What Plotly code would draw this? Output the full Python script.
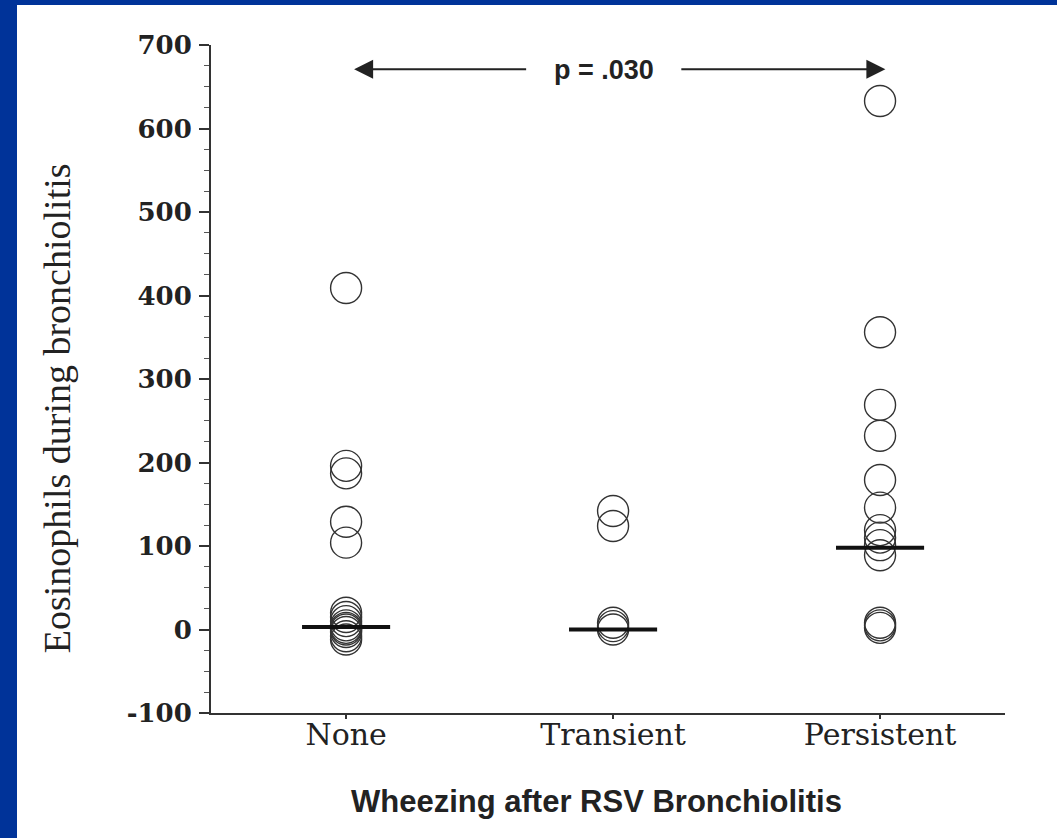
import plotly.graph_objects as go

# ---------------- data ----------------
categories = ["None", "Transient", "Persistent"]
none_vals = [409, 196, 187, 129, 104, 20, 15, 10, 5, 2, 0, -3, -8, -12]
transient_vals = [142, 124, 8, 4, 0]
persistent_vals = [633, 356, 269, 232, 179, 146, 119, 110, 101, 89, 8, 5, 2]
medians = [3, 0, 98]
y_ticks = [-100, 0, 100, 200, 300, 400, 500, 600, 700]
y_tick_labels = ["-100", "0", "100", "200", "300", "400", "500", "600", "700"]
p_text = "p = .030"
x_title = "Wheezing after RSV Bronchiolitis"
y_title = "Eosinophils during bronchiolitis"

# ---------------- layout geometry ----------------
W, H = 1057, 838
ML, MR, MT, MB = 211, 52, 45, 125
PW, PH = W - ML - MR, H - MT - MB
BLUE = "#003399"
INK = "#222222"

fig = go.Figure()

groups = [none_vals, transient_vals, persistent_vals]
for i, vals in enumerate(groups):
    fig.add_trace(go.Scatter(
        x=[i] * len(vals), y=vals, mode="markers",
        marker=dict(symbol="circle-open", size=31, color="#333333",
                    line=dict(width=1.4, color="#333333")),
        showlegend=False, hoverinfo="y"))

half = 0.165
for i, m in enumerate(medians):
    fig.add_trace(go.Scatter(
        x=[i - half, i + half], y=[m, m], mode="lines",
        line=dict(color="#111111", width=4), showlegend=False, hoverinfo="skip"))

def px_x(p):
    return (p - ML) / PW

def px_y(p):
    return (H - MB - p) / PH

shapes = [
    dict(type="rect", xref="paper", yref="paper", layer="below",
         x0=px_x(0), x1=px_x(17), y0=px_y(H), y1=px_y(0),
         fillcolor=BLUE, line=dict(width=0)),
    dict(type="rect", xref="paper", yref="paper", layer="below",
         x0=px_x(0), x1=px_x(W), y0=px_y(5), y1=px_y(0),
         fillcolor=BLUE, line=dict(width=0)),
]

annotations = [
    dict(text=p_text, x=0.966, y=670, xref="x", yref="y", showarrow=False,
         font=dict(family="Liberation Sans", size=27, weight="bold", color=INK)),
    dict(text="", x=0.03, y=671, ax=0.68, ay=671, xref="x", yref="y",
         axref="x", ayref="y", showarrow=True, arrowhead=2, arrowsize=1.9,
         arrowwidth=2, arrowcolor=INK),
    dict(text="", x=2.02, y=671, ax=1.25, ay=671, xref="x", yref="y",
         axref="x", ayref="y", showarrow=True, arrowhead=2, arrowsize=1.9,
         arrowwidth=2, arrowcolor=INK),
    dict(text=y_title, x=px_x(57), y=265, xref="paper", yref="y",
         textangle=-90, showarrow=False, xanchor="center", yanchor="middle",
         font=dict(family="Liberation Serif", size=38, color=INK)),
    dict(text=x_title, x=px_x(596), y=px_y(801), xref="paper", yref="paper",
         showarrow=False, xanchor="center", yanchor="middle",
         font=dict(family="Liberation Sans", size=31, weight="bold", color=INK)),
]

fig.update_layout(
    width=W, height=H,
    margin=dict(l=ML, r=MR, t=MT, b=MB, pad=0),
    paper_bgcolor="white", plot_bgcolor="white",
    shapes=shapes, annotations=annotations,
    xaxis=dict(range=[-0.506, 2.468], tickmode="array",
               tickvals=list(range(len(categories))), ticktext=categories,
               showgrid=False, zeroline=False, showline=True, linecolor="#333333",
               linewidth=2, ticks="outside", ticklen=4, tickwidth=1.5,
               tickcolor="#333333", ticklabelstandoff=-10,
               tickfont=dict(family="DejaVu Serif", size=30, color=INK)),
    yaxis=dict(range=[-100, 700], tickmode="array", tickvals=y_ticks,
               ticktext=y_tick_labels,
               showgrid=False, zeroline=False, showline=True, linecolor="#333333",
               linewidth=2, ticks="outside", ticklen=10, tickwidth=1.5,
               tickcolor="#333333", ticklabelstandoff=2,
               tickfont=dict(family="DejaVu Serif", size=26, weight="bold", color=INK),
               minor=dict(dtick=25, tick0=0, ticks="outside", ticklen=5,
                          tickwidth=1, tickcolor="#555555", showgrid=False)),
)

fig.write_html("out.html")
